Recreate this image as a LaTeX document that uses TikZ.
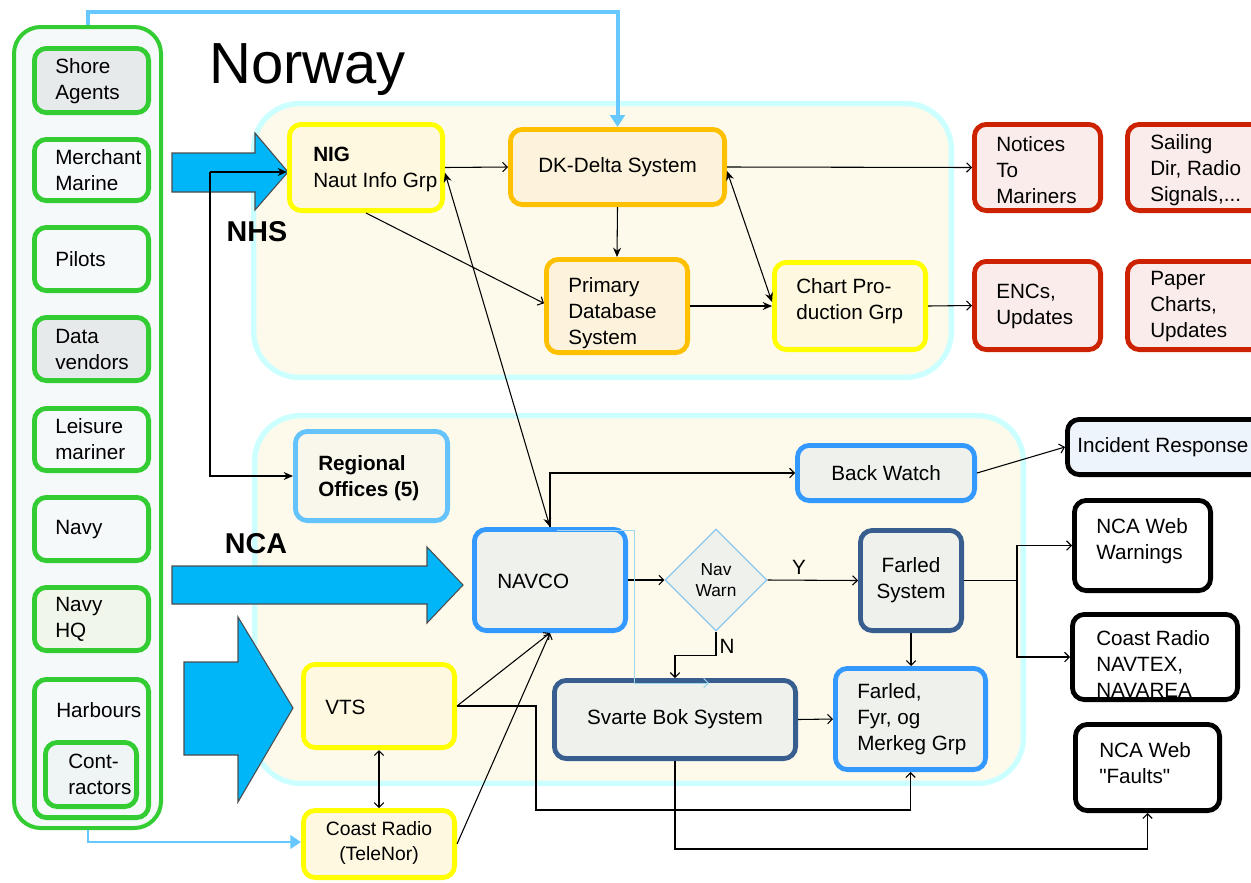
\documentclass[tikz,border=0pt]{standalone}
\usepackage{fontspec}
\setmainfont{Liberation Sans}[Ligatures=TeXOff]
\usetikzlibrary{arrows.meta,fit,shapes.geometric}

\definecolor{grn}{RGB}{51,204,51}
\definecolor{sky}{RGB}{102,200,255}
\definecolor{cyanb}{RGB}{204,255,255}
\definecolor{cream}{RGB}{253,250,236}
\definecolor{arrowblue}{RGB}{0,182,248}
\definecolor{yel}{RGB}{255,255,0}
\definecolor{yelfill}{RGB}{254,248,224}
\definecolor{org}{RGB}{255,192,0}
\definecolor{orgfill}{RGB}{253,243,220}
\definecolor{redb}{RGB}{204,34,0}
\definecolor{redfill}{RGB}{250,236,234}
\definecolor{blu}{RGB}{51,153,255}
\definecolor{bluefill}{RGB}{239,241,236}
\definecolor{dblu}{RGB}{56,94,143}
\definecolor{regb}{RGB}{100,195,250}
\definecolor{regfill}{RGB}{249,247,236}
\definecolor{incfill}{RGB}{238,244,252}
\definecolor{ghost}{RGB}{160,215,235}
\definecolor{diab}{RGB}{140,200,240}
\definecolor{grayfill}{RGB}{231,234,235}
\definecolor{palefill}{RGB}{245,249,250}
\definecolor{hqfill}{RGB}{241,246,234}
\definecolor{contrfill}{RGB}{239,245,245}

\newcommand{\txtA}{\fontsize{15.5}{19.5}\selectfont}
\newcommand{\txtNav}{\fontsize{13}{15.75}\selectfont}
\newcommand{\txtRadio}{\fontsize{14.5}{18.75}\selectfont}
\newcommand{\txtBig}{\fontsize{43.5}{50}\selectfont}
\newcommand{\txtHead}{\fontsize{21.5}{24}\selectfont\bfseries}

\begin{document}
\begin{tikzpicture}[x=0.75pt, y=-0.75pt,
  boxbase/.style={draw, rounded corners=9pt, line width=3.6pt, inner sep=-1.8pt},
  gbox/.style={boxbase, draw=grn, fill=palefill},
  ybox/.style={boxbase, draw=yel, fill=yelfill},
  obox/.style={boxbase, draw=org, fill=orgfill},
  rbox/.style={boxbase, draw=redb, fill=redfill},
  bbox/.style={boxbase, draw=blu, fill=bluefill},
  dbox/.style={boxbase, draw=dblu, fill=bluefill},
  kbox/.style={boxbase, draw=black, fill=white},
  cont/.style={draw=cyanb, fill=cream, line width=4pt, rounded corners=34pt, inner sep=-2pt},
  lbl/.style={anchor=west, align=left, inner sep=0pt, font=\txtA},
  clbl/.style={align=center, inner sep=0pt, font=\txtA},
  bigarrow/.style={fill=arrowblue, draw=black!70, line width=0.8pt},
  sarr/.style={line width=0.8pt, -{Stealth[length=7pt,width=6pt]}},
  darr/.style={line width=0.8pt, {Stealth[length=7pt,width=6pt]}-{Stealth[length=7pt,width=6pt]}},
  oarr/.style={line width=0.8pt, -{Straight Barb[length=3.5pt,width=7pt]}},
  odarr/.style={line width=0.8pt, {Straight Barb[length=3.5pt,width=7pt]}-{Straight Barb[length=3.5pt,width=7pt]}},
  skyline/.style={draw=sky, line width=3pt},
]
\useasboundingbox (0,0) rectangle (1251,882);
\clip (0,0) rectangle (1251,882);
\fill[white] (0,0) rectangle (1251,882);

% organisation areas
\node[cont, fit={(251,101) (954,380)}] (nhs) {};
\node[cont, fit={(252,413) (1026,786)}] (nca) {};

% information sources
\node[boxbase, draw=grn, fill=palefill, line width=3pt, inner sep=-1.5pt, rounded corners=20pt, fit={(12,25) (163,830)}] (sources) {};
\node[gbox, fill=grayfill, fit={(32,46) (151,115)}] (shore) {};
\node[gbox, fit={(32,137) (151,203)}] (merchant) {};
\node[gbox, fit={(32,225) (151,293)}] (pilots) {};
\node[gbox, fill=grayfill, fit={(32,315) (151,383)}] (vendors) {};
\node[gbox, fit={(32,406) (151,473)}] (leisure) {};
\node[gbox, fit={(32,495) (151,563)}] (navy) {};
\node[gbox, fill=hqfill, fit={(32,585) (151,653)}] (navyhq) {};
\node[gbox, fit={(32,677) (151,820)}] (harbours) {};
\node[gbox, fill=contrfill, fit={(43,740) (139,809)}] (contr) {};

\node[lbl] (shore-t) at (55,81) {Shore\\Agents};
\node[lbl] (merchant-t) at (55,170) {Merchant\\Marine};
\node[lbl] (pilots-t) at (55,259) {Pilots};
\node[lbl] (vendors-t) at (55,349) {Data\\vendors};
\node[lbl] (leisure-t) at (55,439) {Leisure\\mariner};
\node[lbl] (navy-t) at (55,530) {Navy};
\node[lbl] (navyhq-t) at (55,619) {Navy\\HQ};
\node[lbl] (harbours-t) at (56,710) {Harbours};
\node[lbl] (contr-t) at (68,774) {Cont-\\ractors};

% headings
\node[anchor=base west, inner sep=0pt, font=\txtBig] (title) at (209,83) {Norway};
\node[font=\txtHead] (nhslab) at (257,232) {NHS};
\node[font=\txtHead] (ncalab) at (256,544) {NCA};

% broad input arrows
\filldraw[bigarrow] (172,153) -- (255,153) -- (255,133) -- (288,172) -- (255,210) -- (255,192) -- (172,192) -- cycle;
\filldraw[bigarrow] (172,566) -- (427,566) -- (427,547) -- (463,585) -- (427,623) -- (427,604) -- (172,604) -- cycle;
\filldraw[bigarrow] (184,662) -- (238,662) -- (238,617) -- (293,708) -- (238,802) -- (238,755) -- (184,755) -- cycle;

% NHS units
\node[ybox, fit={(287,122) (445,213)}] (nig) {};
\node[lbl] (nig-t) at (313,169) {\textbf{NIG}\\Naut Info Grp};
\node[obox, fit={(508,127) (727,207)}] (dk) {};
\node[clbl] (dk-t) at (dk.center) {DK-Delta System};
\node[obox, fit={(544,257) (690,355)}] (pdb) {};
\node[lbl] (pdb-t) at (568,313) {Primary\\Database\\System};
\node[ybox, fit={(772,260) (928,352)}] (chart) {};
\node[lbl] (chart-t) at (796,301) {Chart Pro-\\duction Grp};

% NHS products
\node[rbox, fit={(972,122) (1103,213)}] (notices) {};
\node[lbl] (notices-t) at (996,170) {Notices\\To\\Mariners};
\node[rbox, fit={(1125,122) (1265,213)}] (sailing) {};
\node[lbl] (sailing-t) at (1150,170) {Sailing\\Dir, Radio\\Signals,...};
\node[rbox, fit={(972,259) (1103,352)}] (enc) {};
\node[lbl] (enc-t) at (996,306) {ENCs,\\Updates};
\node[rbox, fit={(1125,259) (1265,352)}] (paper) {};
\node[lbl] (paper-t) at (1150,307) {Paper\\Charts,\\Updates};

% NCA units
\node[boxbase, draw=regb, fill=regfill, fit={(293,429) (450,523)}] (regional) {};
\node[lbl, font=\txtA\bfseries] (regional-t) at (318,478) {Regional\\Offices (5)};
\node[bbox, fit={(795,443) (977,503)}] (backwatch) {};
\node[clbl] (backwatch-t) at (backwatch.center) {Back Watch};
\node[bbox, fit={(472,527) (628,633)}] (navco) {};
\node[lbl] (navco-t) at (497,581) {NAVCO};
\node[diamond, draw=diab, line width=1pt, fill=bluefill, aspect=1, inner sep=0pt,
      minimum width=76.5pt, minimum height=76.5pt, font=\txtNav, align=center] (warn) at (716,580) {Nav\\Warn};
\node[dbox, fit={(858,528) (964,633)}] (farled) {};
\node[clbl] (farled-t) at (farled.center) {Farled\\System};
\node[dbox, fit={(552,678) (798,761)}] (svarte) {};
\node[clbl] (svarte-t) at (svarte.center) {Svarte Bok System};
\node[bbox, fit={(833,666) (988,772)}] (fyr) {};
\node[lbl] (fyr-t) at (857,719) {Farled,\\Fyr, og\\Merkeg Grp};
\node[ybox, fit={(301,662) (457,750)}] (vts) {};
\node[lbl] (vts-t) at (325,707) {VTS};
\node[ybox, fit={(301,808) (457,880)}] (cradio) {};
\node[clbl, font=\txtRadio] (cradio-t) at (379,843) {Coast Radio\\(TeleNor)};

% NCA outputs
\node[kbox, fill=incfill, fit={(1065,417) (1265,477)}] (incident) {};
\node[lbl] (incident-t) at (1077,447) {Incident Response};
\node[kbox, fit={(1072,498) (1213,593)}] (webwarn) {};
\node[lbl] (webwarn-t) at (1096,541) {NCA Web\\Warnings};
\node[kbox, fit={(1070,612) (1240,702)}] (navtex) {};
\begin{scope}
  \clip (1072,614) rectangle (1238,696);
  \node[lbl] (navtex-t) at (1096,664) {Coast Radio\\NAVTEX,\\NAVAREA};
\end{scope}
\node[kbox, fit={(1073,722) (1222,813)}] (faults) {};
\node[lbl] (faults-t) at (1099,763) {NCA Web\\"Faults"};

% flows inside NHS
\draw[oarr] (nig.east) -- (dk.west);
\draw[oarr] (dk.east) -- (notices.west);
\draw[sarr] (dk.south) -- (pdb.north);
\draw[oarr] (nig.south) -- ([yshift=2pt]pdb.west);
\draw[sarr] (pdb.east) -- (chart.west);
\draw[darr] ([yshift=-3pt]dk.east) -- ([yshift=3pt]chart.west);
\draw[oarr] (chart.east) -- (enc.west);

% links between NHS and NCA
\draw[darr] ([yshift=-4pt]nig.east) -- (navco.north);
\coordinate (feed) at (210,172);
\draw[sarr] (feed) -- (feed -| nig.west);
\draw[sarr] (feed) |- (regional.west);

% flows inside NCA
\draw[oarr] (navco.north) |- (backwatch.west);
\draw[oarr] (backwatch.east) -- (incident.west);
\draw[oarr] (navco.east) -- (warn.west);
\draw[oarr] (warn.east) -- (farled.west);
\node[font=\txtA] (ylab) at (799,567) {Y};
\draw[oarr] (warn.south) -- ++(0,24) -| (svarte.north);
\node[font=\txtA] (nlab) at (727,646) {N};
\draw[oarr] (farled.south) -- (farled.south |- fyr.north);
\coordinate (split) at (1017,0);
\draw[line width=0.8pt] (farled.east) -- (farled.east -| split);
\draw[oarr] (farled.east -| split) |- (webwarn.west);
\draw[oarr] (farled.east -| split) |- (navtex.west);
\draw[oarr] (svarte.east) -- (fyr.west);
\coordinate (vtsbend) at (536,810);
\draw[oarr] (vts.east) -| (vtsbend) -| (fyr.south);
\coordinate (faultbend) at (0,849);
\draw[oarr] (svarte.south) -- (svarte.south |- faultbend) -| (faults.south);
\draw[oarr] (vts.east) -- (navco.south);
\draw[oarr] (cradio.east) -- (navco.south);
\draw[odarr] (vts.south) -- (cradio.north);

% faint route from NAVCO to the Svarte Bok system
\coordinate (g1) at (557,530);
\coordinate (g2) at (634,530);
\coordinate (g3) at (634,683);
\coordinate (g4) at (709,683);
\draw[draw=ghost, line width=0.7pt, -{Straight Barb[length=3.5pt,width=7pt]}] (g1) -- (g2) -- (g3) -- (g4);

% feeds from the information sources
\coordinate (topbend) at (88,12);
\draw[skyline, -{Triangle[length=9pt,width=11pt]}] (topbend |- sources.north) -- (topbend) -| (dk.north);
\coordinate (botbend) at (88,842);
\draw[skyline, line width=2.2pt, -{Triangle[length=8pt,width=10pt]}] (botbend |- sources.south) -- (botbend) -- (botbend -| cradio.west);
\end{tikzpicture}
\end{document}
